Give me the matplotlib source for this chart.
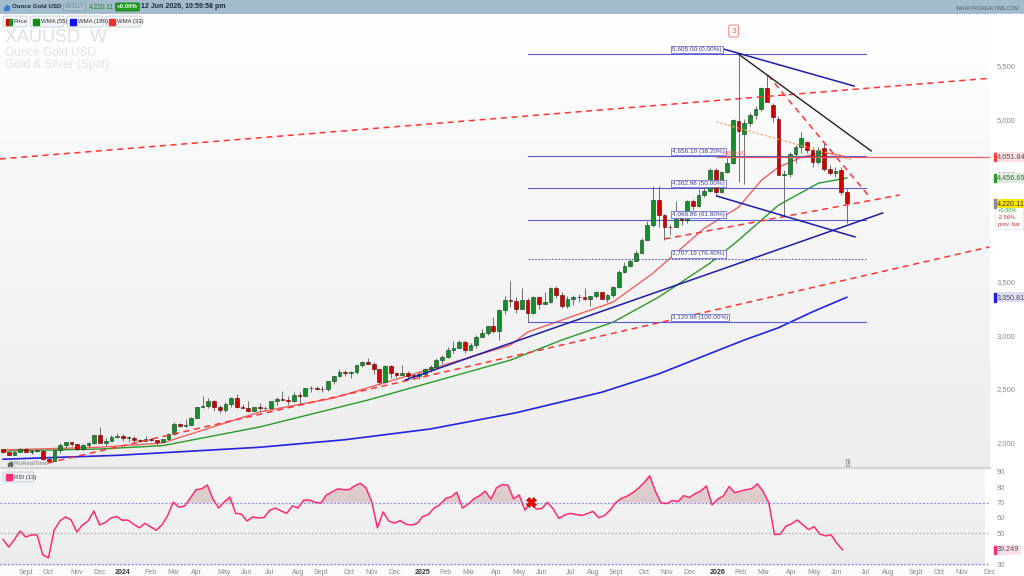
import numpy as np
import matplotlib
matplotlib.use('Agg')
from matplotlib import pyplot as plt
import matplotlib.dates as mdates
from matplotlib.colors import LinearSegmentedColormap
from matplotlib.patches import Rectangle, FancyBboxPatch
import matplotlib.transforms as mtrans
from datetime import date, timedelta

plt.rcParams['font.family'] = ['Liberation Sans', 'DejaVu Sans']

# ---- weekly XAUUSD bars, first bar = week of Mon 7 Aug 2023 ----
first_monday = date(2023, 8, 7)

opens = [1943, 1914, 1889, 1914, 1940, 1919, 1924, 1925, 1848, 1833,
         1932, 1981, 2006, 1992, 1940, 1981, 2002, 2072, 2004, 2019,
         2053, 2063, 2045, 2049, 2029, 2018, 2039, 2024, 2013, 2035,
         2083, 2179, 2155, 2165, 2230, 2329, 2344, 2392, 2337, 2301,
         2360, 2415, 2334, 2327, 2294, 2332, 2321, 2326, 2392, 2411,
         2400, 2387, 2443, 2431, 2507, 2512, 2503, 2497, 2577, 2621,
         2658, 2653, 2657, 2721, 2747, 2736, 2685, 2563, 2715, 2650,
         2633, 2648, 2622, 2621, 2640, 2690, 2702, 2771, 2800, 2861,
         2883, 2936, 2858, 2910, 2984, 3023, 3085, 3037, 3237, 3327,
         3319, 3241, 3325, 3202, 3357, 3289, 3310, 3432, 3368, 3274,
         3337, 3355, 3350, 3337, 3363, 3398, 3336, 3371, 3448, 3586,
         3643, 3685, 3760, 3886, 4018, 4251, 4113, 4002, 4000, 4084,
         4065, 4239, 4198, 4300, 4340, 4530, 4330, 4510, 4600, 4985,
         4860, 4965, 5040, 5100, 5290, 5130, 5000, 4484, 4490, 4680,
         4745, 4790, 4716, 4608, 4732, 4537, 4506, 4530, 4331]
highs = [1948, 1917, 1925, 1953, 1953, 1932, 1947, 1926, 1858, 1933,
         1997, 2009, 2009, 1993, 1994, 2008, 2075, 2146, 2047, 2070,
         2088, 2079, 2062, 2060, 2036, 2066, 2044, 2030, 2041, 2088,
         2195, 2185, 2223, 2236, 2330, 2432, 2418, 2396, 2354, 2378,
         2422, 2450, 2364, 2388, 2336, 2368, 2339, 2392, 2424, 2484,
         2432, 2477, 2477, 2509, 2531, 2525, 2529, 2578, 2625, 2685,
         2672, 2664, 2722, 2758, 2790, 2750, 2688, 2720, 2721, 2658,
         2726, 2664, 2639, 2665, 2697, 2726, 2786, 2817, 2886, 2942,
         2955, 2956, 2930, 3005, 3057, 3087, 3168, 3245, 3358, 3500,
         3352, 3435, 3345, 3366, 3365, 3403, 3446, 3451, 3398, 3365,
         3375, 3377, 3439, 3363, 3409, 3404, 3379, 3453, 3600, 3674,
         3707, 3791, 3897, 4059, 4381, 4381, 4120, 4030, 4245, 4132,
         4256, 4264, 4350, 4380, 4550, 4550, 4520, 4640, 5000, 5605,
         5000, 5060, 5120, 5300, 5410, 5150, 5030, 4530, 4700, 4760,
         4880, 4800, 4740, 4740, 4780, 4580, 4560, 4560, 4352]
lows = [1910, 1885, 1884, 1912, 1915, 1901, 1913, 1846, 1810, 1833,
        1908, 1953, 1970, 1932, 1931, 1965, 1993, 1995, 1973, 2016,
        2048, 2016, 2013, 2001, 2009, 2017, 2015, 1984, 2011, 2024,
        2078, 2146, 2146, 2163, 2228, 2325, 2324, 2292, 2277, 2291,
        2333, 2326, 2322, 2287, 2293, 2296, 2293, 2319, 2352, 2394,
        2353, 2379, 2364, 2431, 2470, 2491, 2472, 2485, 2546, 2614,
        2624, 2604, 2640, 2708, 2730, 2643, 2537, 2563, 2605, 2614,
        2630, 2583, 2600, 2597, 2614, 2656, 2689, 2730, 2790, 2833,
        2880, 2832, 2858, 2880, 2982, 3000, 3015, 2957, 3194, 3260,
        3202, 3240, 3121, 3200, 3245, 3289, 3294, 3340, 3255, 3248,
        3282, 3310, 3325, 3268, 3347, 3330, 3311, 3352, 3436, 3578,
        3628, 3683, 3758, 3884, 4005, 4004, 3886, 3931, 4000, 4022,
        4040, 4160, 4190, 4280, 4330, 4300, 4320, 4500, 4590, 4420,
        4405, 4940, 5000, 5080, 5160, 4980, 4480, 4095, 4470, 4600,
        4690, 4690, 4560, 4590, 4520, 4480, 4470, 4300, 4037]
closes = [1914, 1889, 1914, 1940, 1919, 1924, 1925, 1848, 1833, 1932,
          1981, 2006, 1992, 1940, 1981, 2002, 2072, 2004, 2019, 2053,
          2063, 2045, 2049, 2029, 2018, 2039, 2024, 2013, 2035, 2083,
          2179, 2155, 2165, 2230, 2329, 2344, 2392, 2337, 2301, 2360,
          2415, 2334, 2327, 2294, 2332, 2321, 2326, 2392, 2411, 2400,
          2387, 2443, 2431, 2507, 2512, 2503, 2497, 2577, 2621, 2658,
          2653, 2657, 2721, 2747, 2736, 2685, 2563, 2715, 2650, 2633,
          2648, 2622, 2621, 2640, 2690, 2702, 2771, 2800, 2861, 2883,
          2936, 2858, 2910, 2984, 3023, 3085, 3037, 3237, 3327, 3319,
          3241, 3325, 3202, 3357, 3289, 3310, 3432, 3368, 3274, 3337,
          3355, 3350, 3337, 3363, 3398, 3336, 3371, 3448, 3586, 3643,
          3685, 3760, 3886, 4018, 4251, 4113, 4002, 4000, 4084, 4065,
          4239, 4198, 4300, 4340, 4530, 4330, 4510, 4600, 4990, 4895,
          4965, 5040, 5100, 5290, 5160, 5025, 4484, 4490, 4680, 4745,
          4830, 4716, 4608, 4716, 4537, 4506, 4525, 4331, 4220.11]

rsi13 = [46, 41, 46, 51.5, 47.6, 49, 49, 36, 34, 52,
         58, 60.7, 58.7, 50.9, 55.5, 58, 64.6, 55.5, 57, 60,
         61, 58.5, 58.7, 56, 53.6, 56.5, 54.3, 52, 55.5, 61.4,
         70.3, 67, 67.8, 73, 78.5, 79, 81.5, 72.4, 66.5, 70.5,
         73.7, 63, 62.6, 58, 60.7, 60, 60.3, 65, 66.5, 64.6,
         63, 67.8, 66.5, 71.7, 71.7, 70.3, 69.6, 75, 77, 79,
         78.5, 78.5, 81, 82.6, 79.5, 70.5, 53.6, 64, 58, 56.7,
         58.3, 56, 55.4, 56.5, 61, 62.3, 66.5, 68.6, 72.7, 73.8,
         76.8, 66.5, 69, 72.5, 74.5, 77.5, 72.3, 79.7, 81.8, 81.4,
         72.5, 75, 65.1, 70.2, 65.8, 66.2, 70.2, 65.8, 59.7, 61.9,
         63, 62.3, 61.6, 62.8, 64.3, 60.2, 61.5, 65, 70, 72.8,
         74.2, 76.5, 79.3, 83, 87.5, 77.5, 69.9, 69.4, 71.4, 70.7,
         74.6, 73.3, 75.9, 77.5, 80.9, 68.6, 72.3, 74.4, 80.5, 76.5,
         77.5, 78.5, 79.1, 82.3, 77.3, 70, 49.2, 49.4, 54.6, 56.2,
         58.7, 55.6, 52.5, 54.3, 49.5, 48.4, 48.9, 43.5, 39.249]

# weighted moving averages, read at a few bars (bar index, value)
wma33_idx = [0, 17, 28, 45, 58, 89, 92, 107, 114, 123, 129, 133, 136, 140, 143, 145, 148]
wma33_val = [1935, 1960, 2000, 2287, 2417, 2907, 3028, 3306, 3574, 3991, 4185, 4435, 4556, 4648, 4685, 4685, 4651.84]
wma55_idx = [0, 17, 28, 45, 64, 89, 98, 107, 115, 124, 129, 136, 143, 148]
wma55_val = [1925, 1944, 1975, 2148, 2398, 2768, 2954, 3120, 3352, 3667, 3880, 4204, 4408, 4456.69]
wma189_idx = [0, 20, 45, 60, 75, 90, 105, 115, 125, 130, 136, 142, 148]
wma189_val = [1849, 1885, 1960, 2030, 2130, 2280, 2470, 2640, 2850, 2954, 3068, 3216, 3350.81]

# fibonacci retracement 3,120.98 -> 5,605.00
fib_levels = [5605.00, 4656.10, 4362.98, 4069.86, 3707.19, 3120.98]
fib_pcts = ['0.00%', '38.20%', '50.00%', '61.80%', '76.40%', '100.00%']
fib_span = (date(2025, 5, 14), date(2026, 7, 3))
fib_label_at = date(2025, 11, 7)

# hand drawn lines: (start date, start price, end date, end price)
red_dashed = [(date(2023, 8, 5), 4633, date(2026, 12, 2), 5381),
              (date(2023, 10, 3), 1815, date(2026, 12, 2), 3817),
              (date(2025, 10, 29), 3891, date(2026, 8, 14), 4299),
              (date(2026, 3, 5), 5411, date(2026, 7, 9), 4271)]
navy_lines = [(date(2026, 1, 5), 5662, date(2026, 6, 19), 5309),
              (date(2026, 1, 1), 4290, date(2026, 6, 20), 3910),
              (date(2024, 12, 15), 2584, date(2026, 7, 24), 4132)]
black_line = (date(2026, 1, 28), 5605, date(2026, 7, 10), 4707)
orange_line = (date(2026, 1, 1), 4976, date(2026, 6, 17), 4623)
hline_level = 4650.60
hline_start = date(2026, 1, 1)
hline_label_at = date(2026, 1, 10)
rsi_cross_bar = 93

price_ticks = [2000, 2500, 3000, 3500, 4500, 5000, 5500]
rsi_ticks = [30, 50, 60, 70, 80, 90]
month_names = ['', '', 'Feb', 'Mar', 'Apr', 'May', 'Jun', 'Jul', 'Aug', 'Sept', 'Oct', 'Nov', 'Dec']


def fx(x):
    return x / 1024.0


def fy(y):
    return 1 - y / 576.0


def py(y):
    # pixel row in the price panel -> price
    return 2000 + (443 - y) * 9.27


n = len(closes)
xd = np.array([mdates.date2num(first_monday + timedelta(days=7 * i + 2)) for i in range(n)])
o = np.array(opens, float)
h = np.array(highs, float)
l = np.array(lows, float)
c = np.array(closes, float)
rsi = np.array(rsi13, float)

d0 = mdates.date2num(date(2024, 1, 1))
xlim = (d0 - 148.8, d0 + 1066.8)
dn = mdates.date2num

fig = plt.figure(figsize=(10.24, 5.76), dpi=100)
fig.patch.set_facecolor('#fbfbfb')

ax = fig.add_axes([0, fy(467), fx(990), (467 - 14) / 576.0])
ax2 = fig.add_axes([0, fy(566), fx(990), (566 - 468) / 576.0])

bg = LinearSegmentedColormap.from_list('bg', ['#ffffff', '#ededed'])
grad = np.linspace(0, 1, 256).reshape(-1, 1)
ax.set_xlim(*xlim)
ax.set_ylim(1777, 5977)
ax.imshow(grad, extent=[xlim[0], xlim[1], 1777, 5977], aspect='auto', cmap=bg, zorder=0)
ax2.set_xlim(*xlim)
ax2.set_ylim(28.7, 92.6)
bg2 = LinearSegmentedColormap.from_list('bg2', ['#f7f7f7', '#ebebeb'])
ax2.imshow(grad, extent=[xlim[0], xlim[1], 28.7, 92.6], aspect='auto', cmap=bg2, zorder=0)

for a in (ax, ax2):
    for s in a.spines.values():
        s.set_visible(False)
    a.yaxis.tick_right()
    a.tick_params(axis='y', length=0, pad=5, labelsize=5.5, labelcolor='#8c8c8c')

# ---- price panel ----
ax.set_xticks([])
ax.set_yticks(price_ticks)
ax.set_yticklabels(['{:,}'.format(v) for v in price_ticks])

ax.plot(xd[wma189_idx], wma189_val, color='#2323e0', lw=1.2, zorder=2)
ax.plot(xd[wma55_idx], wma55_val, color='#2a9a2a', lw=1.0, zorder=2)
ax.plot(xd[wma33_idx], wma33_val, color='#f26060', lw=1.0, zorder=2)

# fib retracement
for lev, pct in zip(fib_levels, fib_pcts):
    ls = (0, (1.5, 1.5)) if pct == '76.40%' else '-'
    ax.plot([dn(fib_span[0]), dn(fib_span[1])], [lev, lev], color='#5a5ad2', lw=0.8, ls=ls, zorder=2)
    ax.text(dn(fib_label_at), lev + 22, '{:,.2f} ({})'.format(lev, pct), fontsize=4.6,
            color='#3a3a9a', va='bottom', ha='left', zorder=6,
            bbox=dict(boxstyle='square,pad=0.18', fc='white', ec='#7070d0', lw=0.6))

# candles
ax.vlines(xd, l, h, color='#5a5a5a', lw=0.6, zorder=3)
up = c >= o
bot = np.minimum(o, c)
hgt = np.maximum(np.abs(c - o), 6)
ax.bar(xd[up], hgt[up], bottom=bot[up], width=4.6, color='#13902c', edgecolor='#0c3f17', lw=0.4, zorder=4)
ax.bar(xd[~up], hgt[~up], bottom=bot[~up], width=4.6, color='#d20000', edgecolor='#5c0000', lw=0.4, zorder=4)

# drawn lines
for d1, p1, d2, p2 in red_dashed:
    ax.plot([dn(d1), dn(d2)], [p1, p2], color='#ff3434', lw=1.1, ls=(0, (4, 3)), zorder=5)
for d1, p1, d2, p2 in navy_lines:
    ax.plot([dn(d1), dn(d2)], [p1, p2], color='#1c1ca8', lw=1.1, zorder=5)
ax.plot([dn(black_line[0]), dn(black_line[2])], [black_line[1], black_line[3]], color='#222222', lw=1.0, zorder=5)
ax.plot([dn(orange_line[0]), dn(orange_line[2])], [orange_line[1], orange_line[3]], color='#ffa060',
        lw=1.0, ls=(0, (1.5, 1.5)), zorder=5)
ax.plot([dn(hline_start), xlim[1]], [hline_level, hline_level], color='#ff5a5a', lw=0.9, zorder=5)
ax.text(dn(hline_label_at), hline_level + 10, '{:.2f}'.format(hline_level), fontsize=4.4, color='#ff5a5a',
        va='bottom', ha='left', zorder=6)

# wave label
ax.text(dn(date(2026, 1, 22)), py(31), '3', fontsize=6, color='#ff5a5a', ha='center', va='center', zorder=6,
        bbox=dict(boxstyle='round,pad=0.3,rounding_size=0.2', fc='white', ec='#ff7a7a', lw=0.7))

# watermark
ax.text(0.005, 0.948, 'XAUUSD  W', transform=ax.transAxes, fontsize=13, color='#e0e0e0', va='center', zorder=1)
ax.text(0.005, 0.913, 'Ounce Gold USD', transform=ax.transAxes, fontsize=8.5, color='#e4e4e4', va='center', zorder=1)
ax.text(0.005, 0.887, 'Gold & Silver (Spot)', transform=ax.transAxes, fontsize=8.5, color='#e4e4e4', va='center', zorder=1)

# value tags on the right
blend = mtrans.blended_transform_factory(ax.transAxes, ax.transData)
px = 1.0 / 990


def tag(a, tr, val, txt, fc, bar, tc='#555555', ph=None):
    a.text(1 + 7 * px, val, txt, transform=tr, fontsize=5.2, color=tc, va='center', ha='left', zorder=8,
           clip_on=False, bbox=dict(boxstyle='square,pad=0.2', fc=fc, ec='none'))
    a.add_patch(Rectangle((1 + 4 * px, val - ph / 2), 2.2 * px, ph, transform=tr, color=bar,
                          clip_on=False, zorder=9))


tag(ax, blend, 4651.84, '4,651.84', '#fde0e0', '#ff4040', ph=80)
tag(ax, blend, 4456.69, '4,456.69', '#dcf1dc', '#23a023', ph=80)
tag(ax, blend, c[-1], '{:,.2f}'.format(c[-1]), '#ffe600', '#8c8c8c', tc='#333333', ph=80)
ax.add_patch(Rectangle((1 + 5 * px, py(229)), 28 * px, py(206) - py(229), transform=blend, fc='white',
                       ec='#e4e4e4', lw=0.5, clip_on=False, zorder=7))
for yy, txt, col in ((211, '+0.00%', '#1b9a1b'), (218, '-2.56%', '#c83030'), (225, 'prev. bar', '#c83030')):
    ax.text(1 + 8 * px, py(yy), txt, transform=blend, fontsize=4.1, color=col, va='center', ha='left',
            clip_on=False, zorder=8)
tag(ax, blend, 3350.81, '3,350.81', '#dcdcfa', '#2020e0', ph=80)

# ---- RSI panel ----
ax2.plot(xd, rsi, color='#ff2a72', lw=1.1, zorder=4)
ax2.fill_between(xd, rsi, 70, where=rsi >= 70, interpolate=True, color='#b07070', alpha=0.3, lw=0, zorder=3)
for lev, col in ((70, '#8a8af0'), (30, '#8a8af0'), (50, '#b9b9b9')):
    ax2.axhline(lev, color=col, lw=0.9, ls=(0, (1.5, 1.5)), zorder=2)
ax2.plot(xd[rsi_cross_bar], rsi[rsi_cross_bar], marker='X', ms=7, color='#ff0000', mec='#b00000', mew=0.5, zorder=6)
ax2.set_yticks(rsi_ticks)
ax2.set_yticklabels([str(v) for v in rsi_ticks])
blend2 = mtrans.blended_transform_factory(ax2.transAxes, ax2.transData)
tag(ax2, blend2, rsi[-1], '{:.3f}'.format(rsi[-1]), '#fde0ea', '#ff2a72', ph=5.5)

# month ticks: first weekly bar of each month
ticks, labels, years = [], [], []
y, m = 2023, 9
while (y, m) <= (2026, 12):
    d = date(y, m, 1)
    while d.weekday() != 0:
        d += timedelta(days=1)
    ticks.append(dn(d + timedelta(days=2)))
    labels.append(str(y) if m == 1 else month_names[m])
    years.append(m == 1)
    m += 1
    if m > 12:
        y, m = y + 1, 1
ax2.set_xticks(ticks)
ax2.set_xticklabels(labels)
ax2.tick_params(axis='x', length=0, pad=2, labelsize=5, labelcolor='#8a8a8a')
for t, isy in zip(ax2.get_xticklabels(), years):
    if isy:
        t.set_color('#333333')
        t.set_fontweight('bold')

# ---- figure chrome ----
fig.add_artist(Rectangle((0, fy(14)), 1, 14 / 576.0, transform=fig.transFigure, color='#a3bccb', zorder=0))
fig.add_artist(Rectangle((0, fy(468)), fx(990), 1 / 576.0, transform=fig.transFigure, color='#d4d4d4'))
fig.add_artist(Rectangle((fx(990), fy(576)), fx(34), (576 - 14) / 576.0, transform=fig.transFigure,
                         color='#ffffff', zorder=0))
for k, hh in enumerate([3, 5, 4]):
    fig.add_artist(Rectangle((fx(4 + 2 * k), fy(10)), fx(1), hh / 576.0, transform=fig.transFigure, color='#3d7fd6'))
fig.text(fx(12), fy(7), 'Ounce Gold USD', fontsize=4.4, fontweight='bold', color='#1d2b38', va='center')
fig.text(fx(65), fy(7), 'WEEKLY', fontsize=3.3, color='#6d8393', va='center',
         bbox=dict(boxstyle='round,pad=0.3,rounding_size=0.2', fc='#aac3d1', ec='#8198a8', lw=0.5))
fig.text(fx(89), fy(7), '4,220.11', fontsize=4.8, color='#1e8c1e', va='center')
fig.text(fx(117), fy(7), '+0.00%', fontsize=4.4, color='white', va='center', fontweight='bold',
         bbox=dict(boxstyle='round,pad=0.25,rounding_size=0.2', fc='#1f9d1f', ec='#167a16', lw=0.5))
fig.text(fx(141), fy(7), '12 Jun 2026, 10:59:58 pm', fontsize=5, color='#1d2b38', va='center', fontweight='bold')
fig.text(fx(1019), fy(8), 'WWW.PROREALTIME.COM', fontsize=3.6, color='#4f5f6b', va='center', ha='right')

# indicator buttons
buttons = [('Price', 3, 24, None), ('WMA (55)', 30, 34, '#109010'), ('WMA (189)', 67, 36, '#1010f0'),
           ('WMA (33)', 106, 35, '#f03030')]
for name, bx, bw, col in buttons:
    fig.add_artist(FancyBboxPatch((fx(bx), fy(27)), fx(bw), 11 / 576.0, transform=fig.transFigure,
                                  boxstyle='round,pad=0,rounding_size=0.002', fc='#f3f5f7', ec='#bfccd6', lw=0.6))
    if col is None:
        fig.add_artist(Rectangle((fx(bx + 3), fy(25)), fx(3), 6 / 576.0, transform=fig.transFigure, color='#d20000'))
        fig.add_artist(Rectangle((fx(bx + 6), fy(25)), fx(3), 6 / 576.0, transform=fig.transFigure, color='#13902c'))
    else:
        fig.add_artist(Rectangle((fx(bx + 3), fy(25)), fx(6), 6 / 576.0, transform=fig.transFigure, color=col))
    fig.text(fx(bx + 11), fy(21.5), name, fontsize=4.3, color='#333333', va='center')

fig.add_artist(FancyBboxPatch((fx(3), fy(482)), fx(31), 10 / 576.0, transform=fig.transFigure,
                              boxstyle='round,pad=0,rounding_size=0.002', fc='#eef0f3', ec='#bfccd6', lw=0.6))
fig.add_artist(Rectangle((fx(6), fy(480)), fx(6), 6 / 576.0, transform=fig.transFigure, color='#ff2a72'))
fig.text(fx(14), fy(477), 'RSI (13)', fontsize=4.3, color='#333333', va='center')

for k, hh in enumerate([3, 5, 4]):
    fig.add_artist(Rectangle((fx(8 + 1.6 * k), fy(466)), fx(0.8), hh / 576.0, transform=fig.transFigure, color='#666666'))
fig.text(fx(14), fy(463.5), 'ProRealTime', fontsize=4.3, color='#777777', va='center')
fig.text(fx(848), fy(463), 'i', fontsize=4, color='#555555', va='center', ha='center',
         bbox=dict(boxstyle='round,pad=0.2,rounding_size=0.1', fc='#e4e4e4', ec='#888888', lw=0.5))

fig.savefig('out.png', dpi=100, facecolor=fig.get_facecolor())
